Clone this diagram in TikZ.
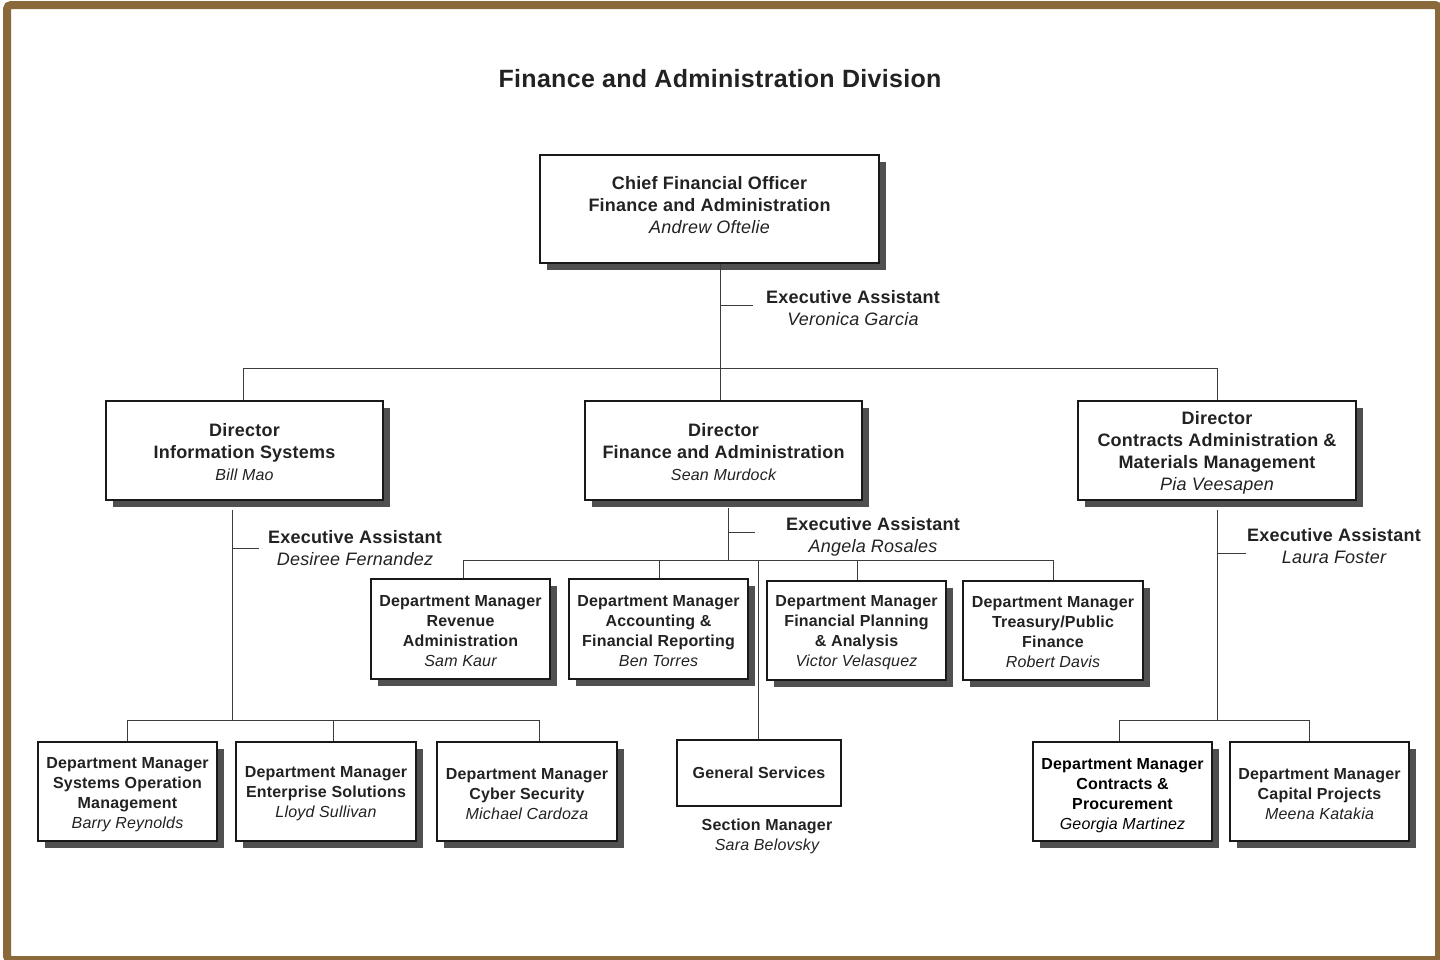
\documentclass[tikz,border=0pt]{standalone}
\usepackage{fontspec}
\setmainfont[LetterSpace=1.2]{Liberation Sans}
\usetikzlibrary{shadows}
\definecolor{frame}{HTML}{8A6A3A}
\definecolor{ink}{HTML}{222222}
\definecolor{wirecol}{HTML}{3C3C3C}
\definecolor{shade}{HTML}{505050}
% invisible struts that nudge a text block inside its box
\newcommand\tallline[1]{\rule{0pt}{#1}}
\newcommand\deepline[1]{\rule[-#1]{0pt}{#1}}

\begin{document}
\begin{tikzpicture}[x=1pt,y=-1pt,
  box/.style={draw=black!90, line width=1.3pt, fill=white, inner sep=0pt, align=center, text=ink},
  shadowed/.style={drop shadow={shadow xshift=7pt, shadow yshift=-7pt, fill=shade, opacity=1}},
  big/.style={font=\fontsize{18}{22}\selectfont\bfseries},
  small/.style={font=\fontsize{16}{20}\selectfont\bfseries},
  wire/.style={draw=wirecol, line width=1pt},
  caption/.style={align=center, text=ink, inner sep=0pt}
]
\useasboundingbox (0,0) rectangle (1440,959);
\fill[white] (0,0) rectangle (1440,959);
% outer frame
\draw[frame, line width=8pt, rounded corners=4pt] (7,5) rectangle (1439,960);

% title
\node[caption, font=\fontsize{25}{30}\selectfont\bfseries] (title) at (720,79) {Finance and Administration Division};

% junction points of the connectors
\coordinate (c0) at (720,368);
\coordinate (c0l) at (243,368);
\coordinate (c0r) at (1217,368);
\coordinate (t0) at (720,305);
\coordinate (t0e) at (753,305);

\coordinate (l0) at (232,510);
\coordinate (l1) at (232,720);
\coordinate (lt) at (232,548);
\coordinate (lte) at (259,548);
\coordinate (la) at (127,720);
\coordinate (lb) at (333,720);
\coordinate (lc) at (539,720);

\coordinate (m0) at (728,508);
\coordinate (m1) at (728,560);
\coordinate (mt) at (728,532);
\coordinate (mte) at (755,532);
\coordinate (ma) at (463,560);
\coordinate (mb) at (659,560);
\coordinate (mc) at (857,560);
\coordinate (md) at (1053,560);
\coordinate (mg) at (758,560);

\coordinate (r0) at (1217,510);
\coordinate (r1) at (1217,720);
\coordinate (rt) at (1217,553);
\coordinate (rte) at (1246,553);
\coordinate (ra) at (1119,720);
\coordinate (rb) at (1309,720);

% boxes
\node[box, big, shadowed, minimum width=339pt, minimum height=108pt] (cfo) at (709.5,209)
  {Chief Financial Officer\\Finance and Administration\\{\mdseries\itshape Andrew Oftelie}\deepline{8pt}};

\node[box, big, shadowed, minimum width=277pt, minimum height=99pt] (dirIS) at (244.5,450.5)
  {\tallline{17pt}Director\\Information Systems\\{\fontsize{16}{20}\selectfont\mdseries\itshape Bill Mao}};
\node[box, big, shadowed, minimum width=277pt, minimum height=99pt] (dirFA) at (723.5,450.5)
  {\tallline{17pt}Director\\Finance and Administration\\{\fontsize{16}{20}\selectfont\mdseries\itshape Sean Murdock}};
\node[box, big, shadowed, minimum width=278pt, minimum height=99pt] (dirCM) at (1217,450.5)
  {\tallline{17pt}Director\\Contracts Administration \&\\Materials Management\\{\mdseries\itshape Pia Veesapen}};

\node[box, small, shadowed, minimum width=179pt, minimum height=100pt] (dmRev) at (460.5,629)
  {\tallline{15.7pt}Department Manager\\Revenue\\Administration\\{\mdseries\itshape Sam Kaur}};
\node[box, small, shadowed, minimum width=179pt, minimum height=100pt] (dmAcc) at (658.5,629)
  {\tallline{15.7pt}Department Manager\\Accounting \&\\Financial Reporting\\{\mdseries\itshape Ben Torres}};
\node[box, small, shadowed, minimum width=179pt, minimum height=99pt] (dmFPA) at (856.5,630.5)
  {\tallline{15pt}Department Manager\\Financial Planning\\\& Analysis\\{\mdseries\itshape Victor Velasquez}};
\node[box, small, shadowed, minimum width=180pt, minimum height=99pt] (dmTre) at (1053,630.5)
  {\tallline{15pt}Department Manager\\Treasury/Public\\Finance\\{\mdseries\itshape Robert Davis}};

\node[box, small, minimum width=164pt, minimum height=66pt] (gs) at (759,773) {General Services};

\node[box, small, shadowed, minimum width=179pt, minimum height=99pt] (dmSOM) at (127.5,791.5)
  {\tallline{17.7pt}Department Manager\\Systems Operation\\Management\\{\mdseries\itshape Barry Reynolds}};
\node[box, small, shadowed, minimum width=180pt, minimum height=99pt] (dmES) at (326,791.5)
  {\tallline{15.7pt}Department Manager\\Enterprise Solutions\\{\mdseries\itshape Lloyd Sullivan}};
\node[box, small, shadowed, minimum width=180pt, minimum height=99pt] (dmCS) at (527,791.5)
  {\tallline{15.7pt}Department Manager\\Cyber Security\\{\mdseries\itshape Michael Cardoza}};

\node[box, small, shadowed, text=black, minimum width=179pt, minimum height=99pt] (dmCP) at (1122.5,791.5)
  {\tallline{18.5pt}Department Manager\\Contracts \&\\Procurement\\{\mdseries\itshape Georgia Martinez}};
\node[box, small, shadowed, minimum width=179pt, minimum height=99pt] (dmCap) at (1319.5,791.5)
  {\tallline{15.7pt}Department Manager\\Capital Projects\\{\mdseries\itshape Meena Katakia}};

% assistants and section manager
\node[caption, big] (ea1) at (853,308) {Executive Assistant\\{\mdseries\itshape Veronica Garcia}};
\node[caption, big] (ea2) at (355,548) {Executive Assistant\\{\mdseries\itshape Desiree Fernandez}};
\node[caption, big] (ea3) at (873,537) {Executive Assistant\\{\mdseries\itshape Angela Rosales}};
\node[caption, big] (ea4) at (1334,546) {Executive Assistant\\{\mdseries\itshape Laura Foster}};
\node[caption, small] (sm) at (767,836) {Section Manager\\{\mdseries\itshape Sara Belovsky}};

% connectors
\draw[wire] (cfo.south -| c0) -- (dirFA.north -| c0);
\draw[wire] (t0) -- (t0e);
\draw[wire] (dirIS.north -| c0l) -- (c0l) -- (c0r) -- (dirCM.north -| c0r);

\draw[wire] (l0) -- (l1);
\draw[wire] (lt) -- (lte);
\draw[wire] (la |- dmSOM.north) -- (la) -- (lc) -- (lc |- dmCS.north);
\draw[wire] (lb) -- (lb |- dmES.north);

\draw[wire] (m0) -- (m1);
\draw[wire] (mt) -- (mte);
\draw[wire] (ma |- dmRev.north) -- (ma) -- (md) -- (md |- dmTre.north);
\draw[wire] (mb) -- (mb |- dmAcc.north);
\draw[wire] (mc) -- (mc |- dmFPA.north);
\draw[wire] (mg) -- (mg |- gs.north);

\draw[wire] (r0) -- (r1);
\draw[wire] (rt) -- (rte);
\draw[wire] (ra |- dmCP.north) -- (ra) -- (rb) -- (rb |- dmCap.north);
\end{tikzpicture}
\end{document}
